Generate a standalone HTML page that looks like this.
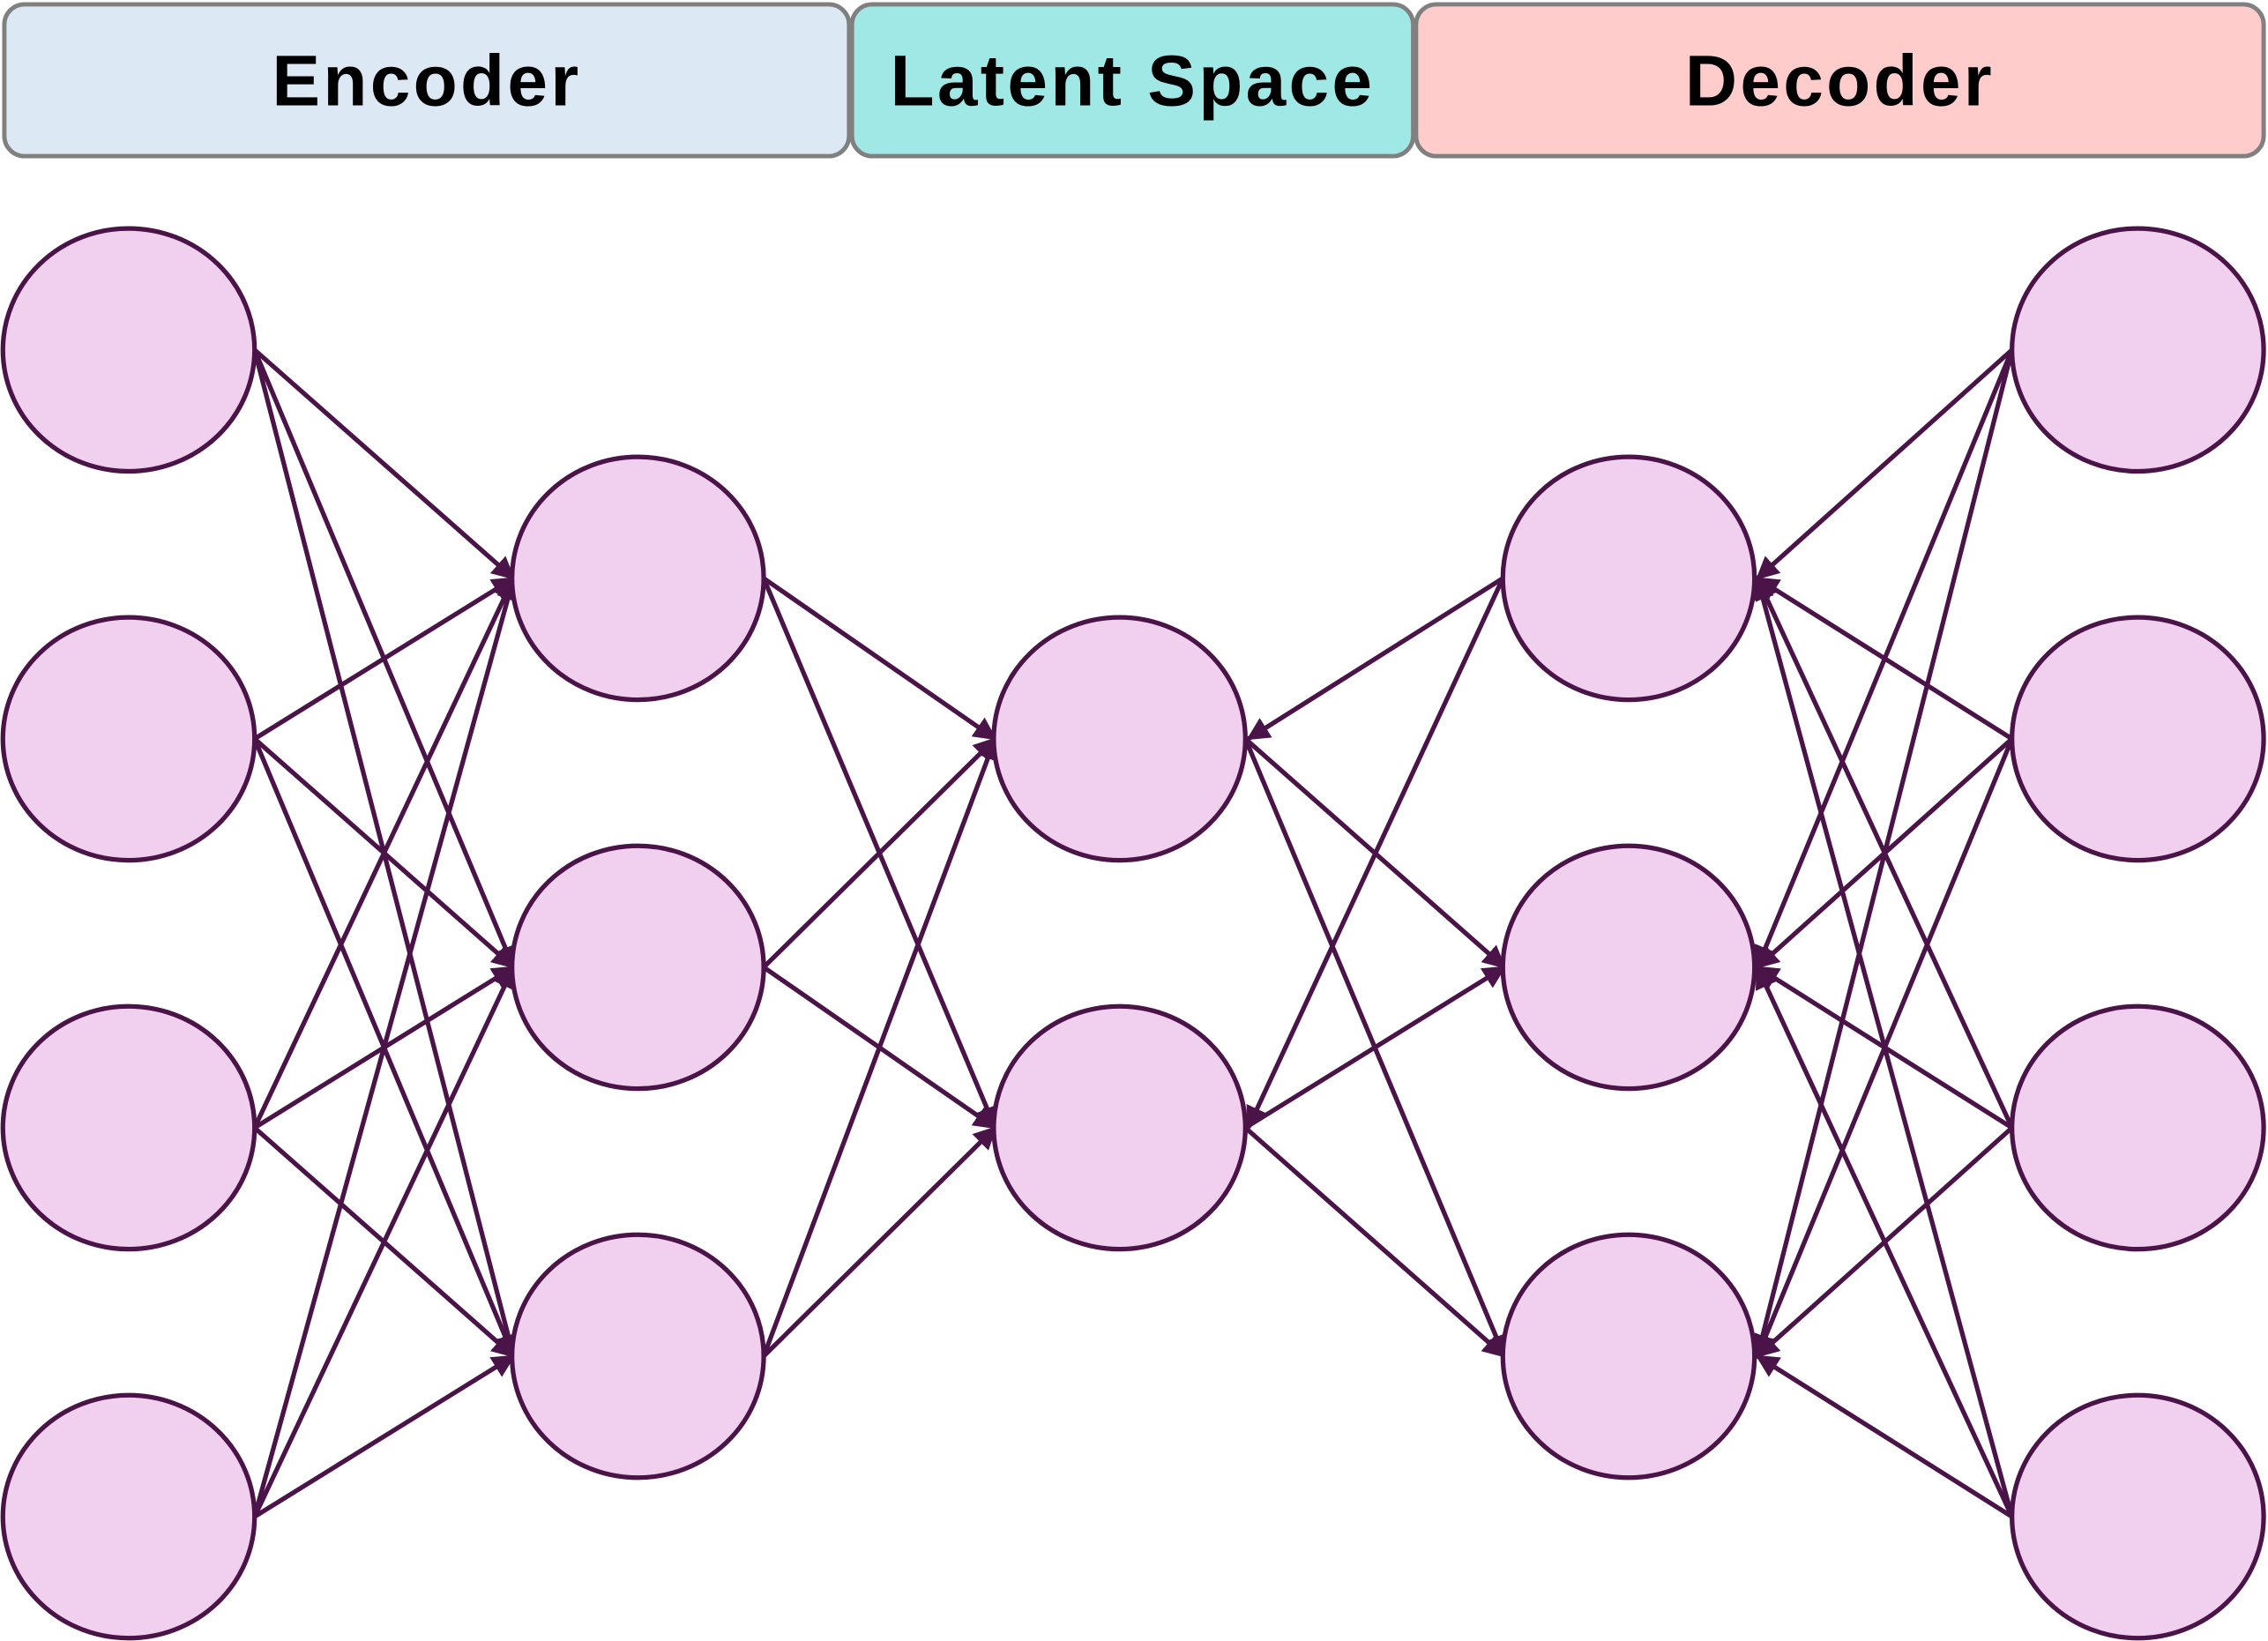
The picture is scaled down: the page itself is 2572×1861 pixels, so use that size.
<!DOCTYPE html>
<html><head><meta charset="utf-8">
<style>
html,body{margin:0;padding:0;background:#fff;}
svg{display:block;}
</style></head>
<body>
<svg id="chart" width="2572" height="1861" viewBox="0 0 1568 1135" preserveAspectRatio="none" xmlns="http://www.w3.org/2000/svg">
<defs>
<marker id="arr" viewBox="0 0 10 10" refX="9" refY="5" markerWidth="5" markerHeight="5" orient="auto" markerUnits="strokeWidth">
<path d="M0,0 L10,5 L0,10 z" fill="#4b1448"/>
</marker>
</defs>
<g>
<rect x="3" y="3" width="584" height="105" rx="14" fill="#dce9f5" stroke="#808080" stroke-width="3"/>
<text x="295" y="73" text-anchor="middle" font-family="Liberation Sans, sans-serif" font-weight="bold" font-size="50" letter-spacing="2" fill="#000">Encoder</text>
</g>
<g>
<rect x="589" y="3" width="388" height="105" rx="14" fill="#a0e8e6" stroke="#808080" stroke-width="3"/>
<text x="783" y="73" text-anchor="middle" font-family="Liberation Sans, sans-serif" font-weight="bold" font-size="50" letter-spacing="2" fill="#000">Latent Space</text>
</g>
<g>
<rect x="979" y="3" width="586" height="105" rx="14" fill="#fecccb" stroke="#808080" stroke-width="3"/>
<text x="1272" y="73" text-anchor="middle" font-family="Liberation Sans, sans-serif" font-weight="bold" font-size="50" letter-spacing="2" fill="#000">Decoder</text>
</g>
<g id="edges"></g>
<g id="nodes"></g>
</svg>
<script>
const layerX = [89, 441, 774, 1126, 1478];
const layerYs = [[242,511,780,1049],[400,669,938],[511,780],[400,669,938],[242,511,780,1049]];
const RX = 87, RY = 84;
const NS = "http://www.w3.org/2000/svg";
const eg = document.getElementById('edges'), ng = document.getElementById('nodes');
function line(x1,y1,x2,y2){
  const l=document.createElementNS(NS,'line');
  l.setAttribute('x1',x1);l.setAttribute('y1',y1);l.setAttribute('x2',x2);l.setAttribute('y2',y2);
  l.setAttribute('stroke','#4b1448');l.setAttribute('stroke-width','3.2');
  l.setAttribute('marker-end','url(#arr)');
  
  
  eg.appendChild(l);
}
for(let k=0;k<4;k++){
  const a=layerYs[k], b=layerYs[k+1];
  const xa=layerX[k], xb=layerX[k+1];
  a.forEach((ya,i)=>b.forEach((yb,j)=>{
    if(k<2){ line(xa+RX,ya,xb-RX+1,yb); }
    else if(k===2){
      if(j===0) line(xb-RX,yb,xa+RX+2,ya);
      else line(xa+RX,ya,xb-RX+1,yb);
    } else { line(xb-RX,yb,xa+RX+2,ya); }
  }));
}
layerYs.forEach((ys,k)=>ys.forEach((y,i)=>{
  const e=document.createElementNS(NS,'ellipse');
  e.setAttribute('cx',layerX[k]);e.setAttribute('cy',y);e.setAttribute('rx',RX);e.setAttribute('ry',RY);
  e.setAttribute('fill','#f1cfee');e.setAttribute('stroke','#4b1448');e.setAttribute('stroke-width','3.2');
  
  
  ng.appendChild(e);
}));
</script>
</body></html>
